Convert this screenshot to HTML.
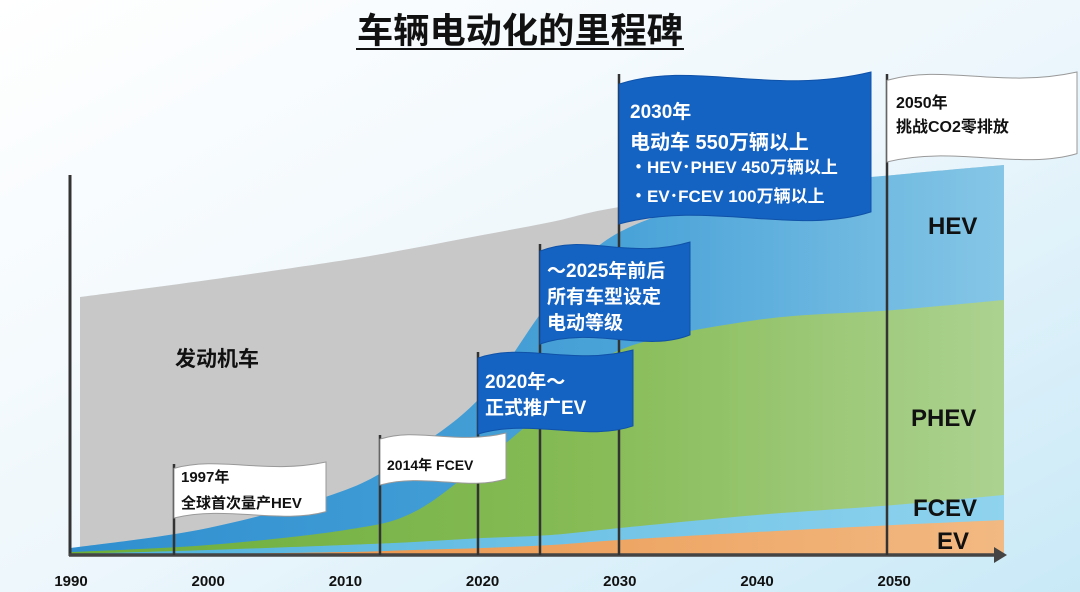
<!DOCTYPE html>
<html><head><meta charset="utf-8">
<style>
html,body{margin:0;padding:0;width:1080px;height:592px;overflow:hidden;background:#fff;}
svg{display:block;font-family:"Liberation Sans","Noto Sans CJK SC",sans-serif;}
</style></head>
<body>
<svg id="chart" width="1080" height="592" viewBox="0 0 1080 592">
<defs>
<linearGradient id="bg" x1="0" y1="0" x2="1" y2="1">
<stop offset="0" stop-color="#ffffff"/><stop offset="0.5" stop-color="#eef7fc"/><stop offset="1" stop-color="#c9e9f7"/></linearGradient>
<linearGradient id="gHEV" x1="0" y1="0" x2="1" y2="0"><stop offset="0" stop-color="#2f8fcf"/><stop offset="0.6" stop-color="#4aa3d8"/><stop offset="1" stop-color="#85c6e6"/></linearGradient>
<linearGradient id="gPHEV" x1="0" y1="0" x2="1" y2="0"><stop offset="0" stop-color="#6cae3c"/><stop offset="0.55" stop-color="#86bb55"/><stop offset="1" stop-color="#acd290"/></linearGradient>
<linearGradient id="gFCEV" x1="0" y1="0" x2="1" y2="0"><stop offset="0" stop-color="#4cb0dc"/><stop offset="1" stop-color="#8fd3ee"/></linearGradient>
<linearGradient id="gEV" x1="0" y1="0" x2="1" y2="0"><stop offset="0" stop-color="#e88a3a"/><stop offset="1" stop-color="#f2b982"/></linearGradient>
</defs>
<rect x="0" y="0" width="1080" height="592" fill="url(#bg)"/>
<text x="520" y="43" text-anchor="middle" font-size="35" font-weight="bold" fill="#111" textLength="326" lengthAdjust="spacingAndGlyphs">车辆电动化的里程碑</text>
<line x1="356" y1="49" x2="684" y2="49" stroke="#111" stroke-width="2"/>
<g id="areas"></g>
<g id="axis"></g>
<g id="poles"></g>
<g id="flags"></g>
<text x="175" y="366" font-size="21" font-weight="bold" fill="#111">发动机车</text>
<text x="928" y="234" font-size="24" font-weight="bold" fill="#111">HEV</text>
<text x="911" y="426" font-size="24" font-weight="bold" fill="#111">PHEV</text>
<text x="913" y="516" font-size="24" font-weight="bold" fill="#111">FCEV</text>
<text x="937" y="549" font-size="24" font-weight="bold" fill="#111">EV</text>
</svg>
<script>
const years=[1990,2000,2010,2015,2020,2025,2030,2040,2050,2058];
const evValues=[0,1,3,5,7,10,15,23,30,35];
const fcevValues=[1,4,7,8,10,10,12,17,20,25];
const phevValues=[2,5,15,30,76,130,178,195,195,195];
const hevValues=[4,17,40,62,67,105,118,130,135,135];
const iceValues=[251,248,230,202,160,78,25,0,0,0];
const tickYears=[1990,2000,2010,2020,2030,2040,2050];
const tickLabels=['1990','2000','2010','2020','2030','2040','2050'];

const NS='http://www.w3.org/2000/svg';
const baseY=555;
function xScale(yr){return 71+(yr-1990)*13.72;}
function yScale(v){return baseY-v;}
function mk(tag,attrs,parent){const e=document.createElementNS(NS,tag);for(const k in attrs)e.setAttribute(k,attrs[k]);parent.appendChild(e);return e;}
function curve(pts){
  let d='M'+pts[0][0]+','+pts[0][1];
  for(let i=0;i<pts.length-1;i++){
    const p0=pts[Math.max(0,i-1)],p1=pts[i],p2=pts[i+1],p3=pts[Math.min(pts.length-1,i+2)];
    const c1=[p1[0]+(p2[0]-p0[0])/6,p1[1]+(p2[1]-p0[1])/6];
    const c2=[p2[0]-(p3[0]-p1[0])/6,p2[1]-(p3[1]-p1[1])/6];
    d+=' C'+c1[0]+','+c1[1]+' '+c2[0]+','+c2[1]+' '+p2[0]+','+p2[1];
  }
  return d;
}
const series=[evValues,fcevValues,phevValues,hevValues,iceValues];
const fills=['url(#gEV)','url(#gFCEV)','url(#gPHEV)','url(#gHEV)','#c8c8c8'];
const names=['ev-area','fcev-area','phev-area','hev-area','ice-area'];
const areas=document.getElementById('areas');
const cum=years.map(()=>0);
const tops=[];
series.forEach((s)=>{const t=s.map((v,i)=>cum[i]+v);t.forEach((v,i)=>cum[i]=v);tops.push(t.slice());});
for(let k=series.length-1;k>=0;k--){
  const pts=years.map((y,i)=>[xScale(y),yScale(tops[k][i])]);
  if(k===series.length-1){pts[0][0]=80;}
  const d=curve(pts)+' L'+xScale(years[years.length-1])+','+baseY+' L'+pts[0][0]+','+baseY+' Z';
  const p=mk('path',{d:d,fill:fills[k]},areas);
  
  
}
const axis=document.getElementById('axis');
const ya=mk('line',{x1:70,y1:175,x2:70,y2:556,stroke:'#333','stroke-width':3},axis);


const xa=mk('line',{x1:69,y1:555,x2:996,y2:555,stroke:'#444','stroke-width':3.5},axis);


const ar=mk('polygon',{points:'994,547 1007,555 994,563',fill:'#444'},axis);


tickYears.forEach((y,i)=>{
  const t=mk('text',{x:xScale(y),y:586,'text-anchor':'middle','font-size':15,'font-weight':'bold',fill:'#111'},axis);
  t.textContent=tickLabels[i];
  
  
});
const polesG=document.getElementById('poles');
const flagsG=document.getElementById('flags');
const flags=[
 {name:'flag-1997',pole:174,x:174,y:462,w:152,h:56,blue:false,lines:['1997年','全球首次量产HEV'],fs:15,ty:[482,508]},
 {name:'flag-2014',pole:380,x:380,y:433,w:126,h:52,blue:false,lines:['2014年 FCEV'],fs:14,ty:[470]},
 {name:'flag-2020',pole:478,x:478,y:350,w:155,h:84,blue:true,lines:['2020年～','正式推广EV'],fs:19,ty:[388,414]},
 {name:'flag-2025',pole:540,x:540,y:242,w:150,h:102,blue:true,lines:['～2025年前后','所有车型设定','电动等级'],fs:19,ty:[277,303,329]},
 {name:'flag-2030',pole:619,x:619,y:72,w:252,h:152,blue:true,lines:['2030年','电动车  550万辆以上','・HEV･PHEV  450万辆以上','・EV･FCEV    100万辆以上'],fs:[19,20,17,17],ty:[118,149,173,202],tx:[630,630,630,630]},
 {name:'flag-2050',pole:887,x:887,y:72,w:190,h:90,blue:false,lines:['2050年','挑战CO2零排放'],fs:16,ty:[108,132],tx:[896,896]}
];
flags.forEach(f=>{
  const pl=mk('line',{x1:f.pole,y1:f.y+2,x2:f.pole,y2:baseY,stroke:'#333','stroke-width':2.5},polesG);
  
  
});
flags.forEach(f=>{
  const a=f.h*0.06+3;
  const d='M'+f.x+','+(f.y+a)+' C'+(f.x+f.w*0.3)+','+(f.y-a)+' '+(f.x+f.w*0.6)+','+(f.y+a*2)+' '+(f.x+f.w)+','+(f.y)+
   ' L'+(f.x+f.w)+','+(f.y+f.h-a)+' C'+(f.x+f.w*0.7)+','+(f.y+f.h+a)+' '+(f.x+f.w*0.35)+','+(f.y+f.h-a*2)+' '+f.x+','+(f.y+f.h)+' Z';
  const p=mk('path',{d:d,fill:f.blue?'#1462c2':'#ffffff',stroke:f.blue?'#0f52a8':'#999','stroke-width':1},flagsG);
  
  
  f.lines.forEach((ln,i)=>{
    const fs=Array.isArray(f.fs)?f.fs[i]:f.fs;
    const tx=f.tx?f.tx[i]:f.x+7;
    const t=mk('text',{x:tx,y:f.ty[i],'font-size':fs,'font-weight':'bold',fill:f.blue?'#fff':'#111'},flagsG);
    t.textContent=ln;
    
    
  });
});
</script>
</body></html>
